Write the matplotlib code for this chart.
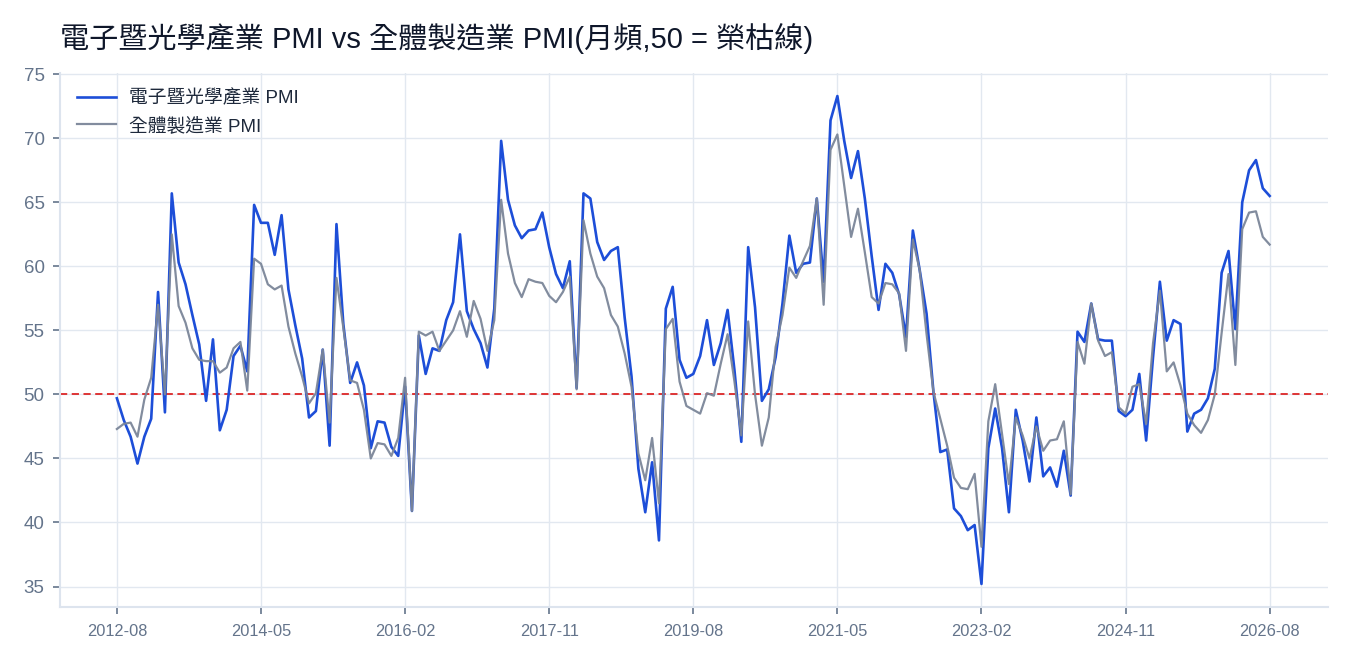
import numpy as np
import pandas as pd
import matplotlib
matplotlib.use("Agg")
import matplotlib.pyplot as plt

plt.rcParams['font.family'] = ['Liberation Sans', 'Noto Sans CJK TC', 'DejaVu Sans']

# 月份 (2012-08 ~ 2026-08, 月頻)
months = pd.date_range("2012-08-01", periods=169, freq="MS").strftime("%Y-%m").tolist()

# 電子暨光學產業 PMI
elec_pmi = [
    49.7, 48.0, 46.7, 44.6, 46.7, 48.1, 58.0, 48.6, 65.7, 60.3,
    58.6, 56.2, 53.9, 49.5, 54.3, 47.2, 48.8, 53.0, 53.8, 51.8,
    64.8, 63.4, 63.4, 60.9, 64.0, 58.2, 55.4, 52.8, 48.2, 48.7,
    53.5, 46.0, 63.3, 55.5, 50.9, 52.5, 50.7, 45.8, 47.9, 47.8,
    45.9, 45.2, 50.6, 40.9, 54.6, 51.6, 53.6, 53.4, 55.8, 57.2,
    62.5, 56.5, 55.1, 54.0, 52.1, 56.7, 69.8, 65.2, 63.2, 62.2,
    62.8, 62.9, 64.2, 61.5, 59.4, 58.3, 60.4, 50.5, 65.7, 65.3,
    61.9, 60.5, 61.2, 61.5, 56.0, 51.4, 44.2, 40.8, 44.7, 38.6,
    56.7, 58.4, 52.7, 51.3, 51.6, 53.0, 55.8, 52.3, 54.0, 56.6,
    51.9, 46.3, 61.5, 56.8, 49.5, 50.4, 52.9, 57.1, 62.4, 59.5,
    60.2, 60.3, 65.3, 58.8, 71.4, 73.3, 69.8, 66.9, 69.0, 65.3,
    60.8, 56.6, 60.2, 59.5, 57.8, 54.5, 62.8, 59.7, 56.3, 50.2,
    45.5, 45.7, 41.1, 40.5, 39.4, 39.8, 35.2, 45.8, 48.9, 45.8,
    40.8, 48.8, 46.4, 43.2, 48.2, 43.6, 44.3, 42.8, 45.6, 42.1,
    54.9, 54.1, 57.1, 54.3, 54.2, 54.2, 48.7, 48.3, 48.8, 51.6,
    46.4, 52.9, 58.8, 54.2, 55.8, 55.5, 47.1, 48.5, 48.8, 49.7,
    52.0, 59.5, 61.2, 55.1, 65.0, 67.5, 68.3, 66.1, 65.5,
]

# 全體製造業 PMI
mfg_pmi = [
    47.3, 47.7, 47.8, 46.7, 49.6, 51.3, 57.0, 50.0, 62.5, 56.9,
    55.6, 53.6, 52.7, 52.6, 52.6, 51.7, 52.1, 53.6, 54.1, 50.3,
    60.6, 60.2, 58.6, 58.2, 58.5, 55.3, 53.2, 51.4, 49.3, 50.1,
    53.5, 47.8, 59.1, 55.2, 51.1, 50.9, 48.8, 45.0, 46.2, 46.1,
    45.2, 46.6, 51.3, 40.9, 54.9, 54.6, 54.9, 53.4, 54.2, 55.0,
    56.5, 54.5, 57.3, 55.9, 53.4, 55.8, 65.2, 61.0, 58.7, 57.6,
    59.0, 58.8, 58.7, 57.7, 57.2, 58.0, 59.2, 50.4, 63.6, 61.0,
    59.2, 58.3, 56.2, 55.3, 53.2, 50.6, 45.4, 43.3, 46.6, 41.5,
    55.1, 55.9, 51.0, 49.1, 48.8, 48.5, 50.1, 49.9, 52.4, 54.7,
    51.0, 46.8, 55.7, 50.0, 46.0, 48.2, 53.7, 56.2, 59.9, 59.1,
    60.4, 61.6, 65.3, 57.0, 69.1, 70.3, 66.3, 62.3, 64.5, 61.1,
    57.6, 57.1, 58.7, 58.6, 57.9, 53.4, 62.1, 59.7, 54.7, 50.2,
    48.1, 46.0, 43.5, 42.7, 42.6, 43.8, 38.1, 47.9, 50.8, 46.9,
    43.0, 48.2, 46.8, 45.0, 47.5, 45.6, 46.4, 46.5, 47.9, 42.2,
    54.1, 52.4, 57.1, 54.2, 53.0, 53.3, 49.0, 48.5, 50.6, 50.8,
    47.7, 54.0, 58.1, 51.8, 52.5, 50.7, 48.5, 47.6, 47.0, 48.0,
    50.0, 54.8, 59.4, 52.3, 62.9, 64.2, 64.3, 62.3, 61.7,
]

threshold = 50

x = np.arange(len(months))
tick_idx = x[::21]

fig = plt.figure(figsize=(13.5, 6.6), dpi=100)
ax = fig.add_axes([0.0444, 0.0803, 0.9393, 0.8091])

ax.plot(x, elec_pmi, color='#1d4ed8', lw=1.9, label='電子暨光學產業 PMI', zorder=3)
ax.plot(x, mfg_pmi, color='#7b8699', lw=1.6, alpha=0.95, label='全體製造業 PMI', zorder=3)
ax.axhline(threshold, color='#dc2626', lw=1.3, ls=(0, (4, 2.5)), zorder=2)

ax.set_xlim(-8.3, 176.5)
ax.set_ylim(33.4, 75.1)
ax.set_yticks([35, 40, 45, 50, 55, 60, 65, 70, 75])
ax.set_xticks(tick_idx)
ax.set_xticklabels([months[i] for i in tick_idx])

ax.grid(True, color='#e2e8f0', lw=1.0, zorder=0)
ax.set_axisbelow(True)
for s in ['top', 'right']:
    ax.spines[s].set_visible(False)
for s in ['left', 'bottom']:
    ax.spines[s].set_color('#dde4ee')
    ax.spines[s].set_linewidth(1.5)

ax.tick_params(axis='y', labelsize=13.5, colors='#64748b', length=5, width=1.2, pad=6)
ax.tick_params(axis='x', labelsize=11.8, colors='#64748b', length=5, width=1.2, pad=7)

ax.set_title('電子暨光學產業 PMI vs 全體製造業 PMI(月頻,50 = 榮枯線)',
             fontsize=21, color='#0f172a', loc='left', x=0.0, pad=18)

leg = ax.legend(loc='upper left', frameon=False, fontsize=13.5, handlelength=2.1,
                handletextpad=0.7, labelspacing=0.5, borderaxespad=0.5,
                bbox_to_anchor=(0.0, 1.0))
for t in leg.get_texts():
    t.set_color('#1e293b')

fig.savefig('out.png', dpi=100)
